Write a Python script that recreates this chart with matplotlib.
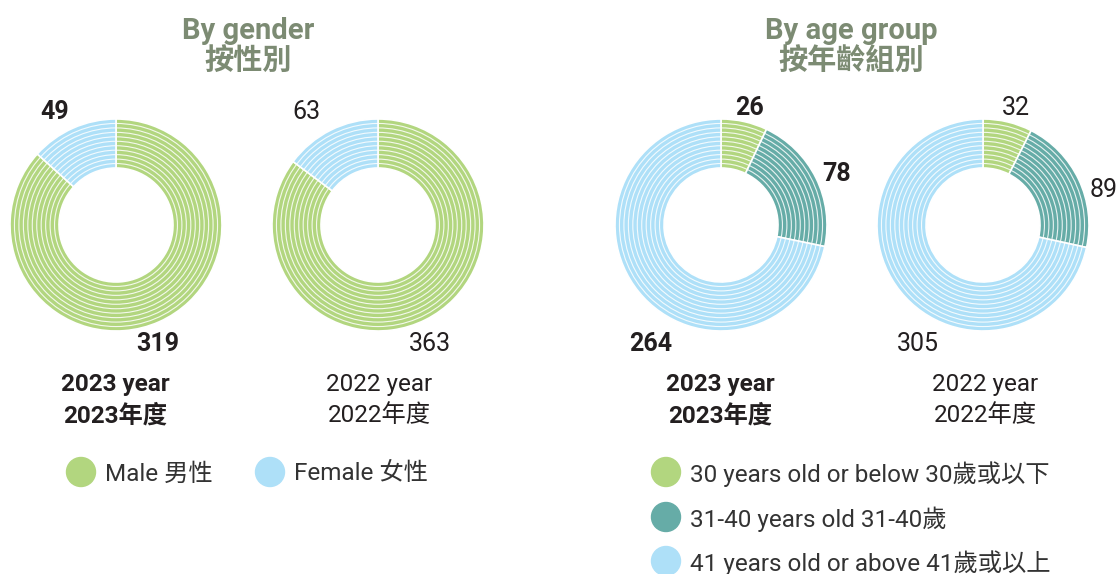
import matplotlib
matplotlib.use("Agg")
import matplotlib.pyplot as plt
from matplotlib.patches import Circle

W, H = 1119, 574

# data
gender_labels = ["Male 男性", "Female 女性"]
gender_2023 = [319, 49]
gender_2022 = [363, 63]

age_labels = ["30 years old or below 30歲或以下", "31-40 years old 31-40歲", "41 years old or above 41歲或以上"]
age_2023 = [26, 78, 264]
age_2022 = [32, 89, 305]

year_labels = [("2023 year", "2023年度"), ("2022 year", "2022年度")]

GREEN = "#b2d67f"
LIGHT_BLUE = "#aee0f8"
TEAL = "#66aca7"
TITLE = "#7c8b73"
TEXT = "#231f20"
FONT = ["Roboto", "Noto Sans CJK TC"]

gender_colors = [GREEN, LIGHT_BLUE]
age_colors = [GREEN, TEAL, LIGHT_BLUE]

R_OUT, R_IN = 106, 57


def Y(y):
    return H - y


def donut(ax, values, colors, cx, cy):
    ax.pie(values, colors=colors, startangle=90, counterclock=False,
           center=(cx, Y(cy)), radius=R_OUT,
           wedgeprops=dict(width=R_OUT - R_IN, edgecolor="white", linewidth=1.2))
    n = 10
    for k in range(1, n + 1):
        r = R_IN + k * (R_OUT - R_IN) / (n + 1)
        ax.add_patch(Circle((cx, Y(cy)), r, fill=False, edgecolor="white",
                            lw=0.8, alpha=0.85, zorder=3))


def txt(ax, x, y, s, size=17, bold=False, color=TEXT, ha="center"):
    # small downward nudge so the visual centre matches the reference
    ax.text(x, Y(y + 2), s, fontsize=size, fontweight="bold" if bold else "normal",
            color=color, ha=ha, va="center", family=FONT)


def main():
    fig = plt.figure(figsize=(W / 100, H / 100), dpi=100)
    ax = fig.add_axes([0, 0, 1, 1])

    donut(ax, gender_2023, gender_colors, 116, 225)
    donut(ax, gender_2022, gender_colors, 378, 225)
    donut(ax, age_2023, age_colors, 721, 225)
    donut(ax, age_2022, age_colors, 983, 225)

    ax.set_xlim(0, W)
    ax.set_ylim(0, H)
    ax.set_aspect("equal")
    ax.axis("off")

    # titles
    txt(ax, 248, 29, "By gender", size=21, bold=True, color=TITLE)
    txt(ax, 248, 59, "按性別", size=21, bold=True, color=TITLE)
    txt(ax, 851, 29, "By age group", size=21, bold=True, color=TITLE)
    txt(ax, 851, 59, "按年齡組別", size=21, bold=True, color=TITLE)

    # value labels
    txt(ax, 55, 110, str(gender_2023[1]), size=18, bold=True)
    txt(ax, 158, 342, str(gender_2023[0]), size=18, bold=True)
    txt(ax, 306, 110, str(gender_2022[1]), size=18)
    txt(ax, 430, 342, str(gender_2022[0]), size=18)
    txt(ax, 750, 106, str(age_2023[0]), size=18, bold=True)
    txt(ax, 837, 172, str(age_2023[1]), size=18, bold=True)
    txt(ax, 651, 342, str(age_2023[2]), size=18, bold=True)
    txt(ax, 1016, 106, str(age_2022[0]), size=18)
    txt(ax, 1104, 188, str(age_2022[1]), size=18)
    txt(ax, 918, 342, str(age_2022[2]), size=18)

    # year labels
    for cx, (en, zh), bold in [(115, year_labels[0], True), (379, year_labels[1], False),
                               (720, year_labels[0], True), (985, year_labels[1], False)]:
        txt(ax, cx, 383, en, size=17.5, bold=bold)
        txt(ax, cx, 414, zh, size=17.5, bold=bold)

    # legends
    for (x, y), label, color in zip([(81, 472), (270, 472)], gender_labels, gender_colors):
        ax.add_patch(Circle((x, Y(y)), 14.5, color=color))
        txt(ax, x + 24, y, label, size=17.5, ha="left", color="#333333")
    for y, label, color in zip([472, 517, 561], age_labels, age_colors):
        ax.add_patch(Circle((666, Y(y)), 14.5, color=color))
        txt(ax, 690, y, label, size=17.5, ha="left", color="#333333")

    fig.savefig("out.png", dpi=100)


if __name__ == "__main__":
    main()
